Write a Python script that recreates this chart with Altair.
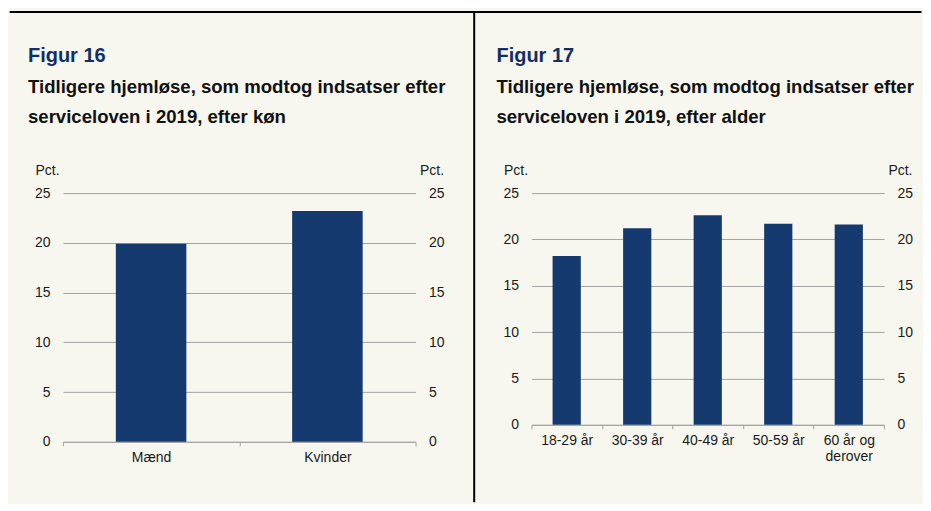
import altair as alt
import pandas as pd

FONT = "Liberation Sans"
BG = "#F7F7F0"
BAR = "#143A6F"
NAVY = "#112F66"
GRID = "#A3A3A3"
TEXT = "#1A1A1A"

# ---- data ----
gender_categories = ["Mænd", "Kvinder"]
gender_values = [19.9, 23.2]

age_categories = ["18-29 år", "30-39 år", "40-49 år", "50-59 år", "60 år og\nderover"]
age_values = [18.2, 21.2, 22.6, 21.7, 21.6]

y_ticks = [0, 5, 10, 15, 20, 25]
unit_label = "Pct."

fig16_title = "Figur 16"
fig16_subtitle = "Tidligere hjemløse, som modtog indsatser efter\nserviceloven i 2019, efter køn"
fig17_title = "Figur 17"
fig17_subtitle = "Tidligere hjemløse, som modtog indsatser efter\nserviceloven i 2019, efter alder"

PLOT_W = 353


def panel(categories, values, title, subtitle, height, decorate):
    df = pd.DataFrame({"kategori": categories, "andel": values})
    base = alt.Chart(df)
    x = alt.X(
        "kategori:N",
        sort=categories,
        title=None,
        scale=alt.Scale(paddingInner=0, paddingOuter=0),
        axis=alt.Axis(
            labelAngle=0,
            tickBand="extent",
            domainColor=GRID,
            tickColor=GRID,
            tickSize=4,
            labelPadding=5,
            labelFont=FONT,
            labelFontSize=14,
            labelColor=TEXT,
            labelLineHeight=16,
            labelExpr="isValid(datum.value) ? split(datum.value, '\\n') : ''",
            grid=False,
        ),
    )
    ycommon = dict(
        values=y_ticks,
        domain=False,
        ticks=False,
        labelFont=FONT,
        labelFontSize=14,
        labelColor=TEXT,
        labelPadding=13,
        title=unit_label,
        titleAngle=0,
        titleFont=FONT,
        titleFontSize=14,
        titleFontWeight="normal",
        titleColor=TEXT,
        titleBaseline="alphabetic",
        titleY=-19,
    )
    bars = base.mark_bar(color=BAR, width={"band": 0.4}).encode(
        x=x,
        y=alt.Y(
            "andel:Q",
            scale=alt.Scale(domain=[0, 25]),
            axis=alt.Axis(
                orient="left", grid=True, gridColor=GRID, gridWidth=1,
                titleX=-28, titleAlign="left", **ycommon
            ),
        ),
    )
    right_axis = base.mark_bar(opacity=0, width={"band": 0.4}).encode(
        x=x,
        y=alt.Y(
            "andel:Q",
            scale=alt.Scale(domain=[0, 25]),
            axis=alt.Axis(
                orient="right", grid=False, titleX=28, titleAlign="right", **ycommon
            ),
        ),
    )
    one = pd.DataFrame({"t": [title], "s": [subtitle]})
    title_mark = alt.Chart(one).mark_text(
        align="left", baseline="alphabetic", font=FONT, fontSize=20,
        fontWeight="bold", color=NAVY,
    ).encode(text="t:N", x=alt.value(-35), y=alt.value(-131.5))
    sub_mark = alt.Chart(one).mark_text(
        align="left", baseline="alphabetic", font=FONT, fontSize=18.6,
        fontWeight="bold", color="#111111", lineBreak="\n", lineHeight=30,
    ).encode(text="s:N", x=alt.value(-35), y=alt.value(-100.5))

    layers = [bars, right_axis, title_mark, sub_mark]
    if decorate:
        deco = alt.Chart(pd.DataFrame({"k": [0]}))
        top_line = deco.mark_rule(color="black", strokeWidth=2).encode(
            x=alt.value(-53.3), x2=alt.value(859.5), y=alt.value(-181.3)
        )
        divider = deco.mark_rule(color="black", strokeWidth=2).encode(
            x=alt.value(411.7), y=alt.value(-181.3), y2=alt.value(309.5)
        )
        layers += [top_line, divider]
    return (
        alt.layer(*layers)
        .resolve_scale(y="independent")
        .properties(width=PLOT_W, height=height)
    )


left = panel(gender_categories, gender_values, fig16_title, fig16_subtitle, 249, True)
right = panel(age_categories, age_values, fig17_title, fig17_subtitle, 232, False)

chart = (
    alt.hconcat(
        left,
        right,
        spacing=116,
        bounds="flush",
        padding={"left": 0, "top": 2, "right": 0, "bottom": 0},
        background=BG,
    )
    .configure(font=FONT)
    .configure_view(stroke=None, strokeWidth=0)
)

chart.save("out.html", embed_options={"renderer": "svg", "actions": False})
